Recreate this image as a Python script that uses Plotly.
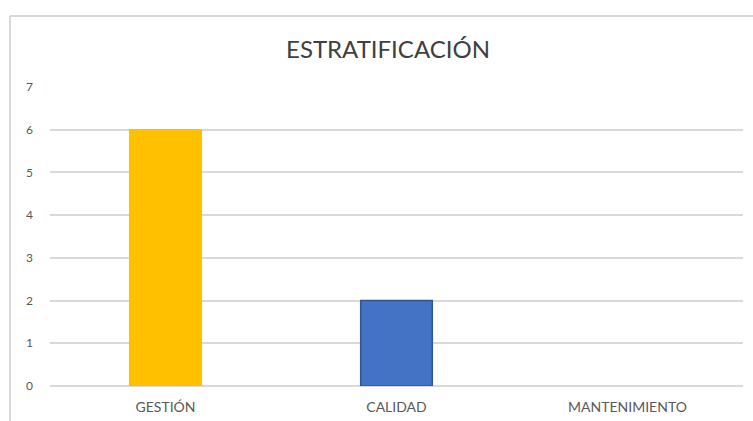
import plotly.graph_objects as go

categories = ["GESTIÓN", "CALIDAD", "MANTENIMIENTO"]
values = [6, 2, 0]
bar_colors = ["#FFC000", "#4472C4", "#4472C4"]
line_colors = ["#FFC000", "#2F5597", "#2F5597"]
line_widths = [1.5, 1.5, 0]
y_ticks = [0, 1, 2, 3, 4, 5, 6, 7]

fig = go.Figure()
fig.add_trace(go.Bar(
    x=categories, y=values,
    marker=dict(color=bar_colors, line=dict(color=line_colors, width=line_widths)),
    width=0.31,
))

fig.update_layout(
    width=753, height=421,
    margin=dict(l=50, r=10, t=87, b=35),
    paper_bgcolor="white", plot_bgcolor="white",
    font=dict(family="Lato, Open Sans, sans-serif", color="#595959"),
    showlegend=False,
    title=dict(text="ESTRATIFICACIÓN", x=(388-50)/693, xref="paper", xanchor="center",
               y=1 - 50/421, yanchor="middle",
               font=dict(size=24, color="#404040", family="Lato, Open Sans, sans-serif")),
    xaxis=dict(showgrid=False, showline=False, ticks="", ticklabelstandoff=11, automargin=False,
               tickfont=dict(size=14, color="#595959")),
    yaxis=dict(range=[0, 7], tickvals=y_ticks, showgrid=True, gridcolor="#D9D9D9", gridwidth=1.5,
               zeroline=True, zerolinecolor="#D9D9D9", zerolinewidth=1.5, automargin=False,
               showline=False, ticks="", ticklabelstandoff=16,
               tickfont=dict(size=12, color="#595959")),
    shapes=[
        dict(type="line", xref="paper", yref="paper",
             x0=(10-50)/693, x1=(753-50)/693, y0=(421-35-16)/299, y1=(421-35-16)/299,
             line=dict(color="#D9D9D9", width=2)),
        dict(type="line", xref="paper", yref="paper",
             x0=(10-50)/693, x1=(10-50)/693, y0=(421-35-16)/299, y1=-35/299,
             line=dict(color="#D9D9D9", width=2)),
    ],
)

fig.write_html("out.html")
